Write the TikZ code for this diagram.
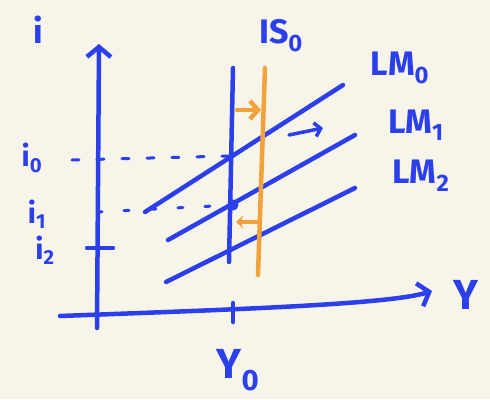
\documentclass[tikz,border=0pt]{standalone}
\usepackage{fontspec}
\setmainfont{Fira Sans}
\usetikzlibrary{arrows.meta}
\definecolor{bg}{HTML}{F7F4EA}
\definecolor{pen}{HTML}{2B3FEA}
\definecolor{amber}{HTML}{F2A23A}
\begin{document}
\begin{tikzpicture}[x=1pt,y=-1pt, line cap=round, line join=round,
  ink/.style={draw=pen, line width=4.5pt},
  orangeink/.style={draw=amber, line width=4.5pt},
  lbl/.style={text=pen, font=\fontsize{34}{38}\selectfont\bfseries, inner sep=0pt},
  slbl/.style={text=pen, font=\fontsize{29}{32}\selectfont\bfseries, inner sep=0pt},
  biglbl/.style={text=pen, font=\fontsize{42}{46}\selectfont\bfseries, inner sep=0pt},
  dashline/.style={draw=pen, line width=3pt, dash pattern=on 7pt off 18pt},
  barb/.style={-{Straight Barb[length=10pt,width=24pt]}}]
\fill[bg] (0,0) rectangle (490,399);
\useasboundingbox (0,0) rectangle (490,399);
% coordinates
\coordinate (yb) at (97,328);
\coordinate (yt) at (99,44);
\coordinate (xl) at (60,316);
\coordinate (xr) at (432,291);
\coordinate (tk1) at (233,303);
\coordinate (tk2) at (233,322);
\coordinate (i2a) at (87,248);
\coordinate (i2b) at (113,248);
\coordinate (d0a) at (72,160);
\coordinate (d0b) at (229,156);
\coordinate (d1a) at (97,212);
\coordinate (d1b) at (233,205);
\coordinate (lm0a) at (145,212);
\coordinate (lm0b) at (343,85);
\coordinate (lm1a) at (168,240);
\coordinate (lm1b) at (355,135);
\coordinate (lm2a) at (166,282);
\coordinate (lm2b) at (355,188);
\coordinate (v0a) at (233,68);
\coordinate (v0b) at (229,262);
\coordinate (isa) at (265,68);
\coordinate (isb) at (258,275);
\coordinate (oa1) at (237,110);
\coordinate (oa2) at (261,110);
\coordinate (ob1) at (257,222);
\coordinate (ob2) at (236,222);
\coordinate (ba1) at (289,135);
\coordinate (ba2) at (323,128);
% axes
\draw[ink, barb] (yb) -- (yt);
\draw[ink, barb] (xl) .. controls (250,309) and (390,304) .. (xr);
\draw[ink] (tk1) -- (tk2);
\draw[ink] (i2a) -- (i2b);
% dashed guides
\draw[dashline] (d0a) -- (d0b);
\draw[dashline, dash pattern=on 5pt off 22pt] (d1a) -- (d1b);
% LM curves
\draw[ink] (lm0a) -- (lm0b);
\draw[ink] (lm1a) -- (lm1b);
\draw[ink] (lm2a) -- (lm2b);
% verticals
\draw[ink] (v0a) -- (v0b);
\draw[orangeink] (isa) -- (isb);
% shift arrows
\draw[orangeink, -{Straight Barb[length=8pt,width=18pt]}] (oa1) -- (oa2);
\draw[orangeink, -{Stealth[length=7pt,width=13pt]}] (ob1) -- (ob2);
\draw[ink, line width=3.5pt, -{Straight Barb[length=6pt,width=14pt]}] (ba1) -- (ba2);
\fill[pen] (d1b) circle (5.5pt);
% labels
\node[lbl] (li) at (38,30) {i};
\node[slbl] (li0) at (32,158) {i\textsubscript{0}};
\node[slbl] (li1) at (37,214) {i\textsubscript{1}};
\node[slbl] (li2) at (45,250) {i\textsubscript{2}};
\node[lbl] (lis) at (281,36) {IS\textsubscript{0}};
\node[lbl] (llm0) at (400,68) {LM\textsubscript{0}};
\node[lbl] (llm1) at (416,125) {LM\textsubscript{1}};
\node[lbl] (llm2) at (421,176) {LM\textsubscript{2}};
\node[biglbl] (lY) at (466,295) {Y};
\node[biglbl] (lY0) at (238,370) {Y\textsubscript{0}};
\end{tikzpicture}
\end{document}
